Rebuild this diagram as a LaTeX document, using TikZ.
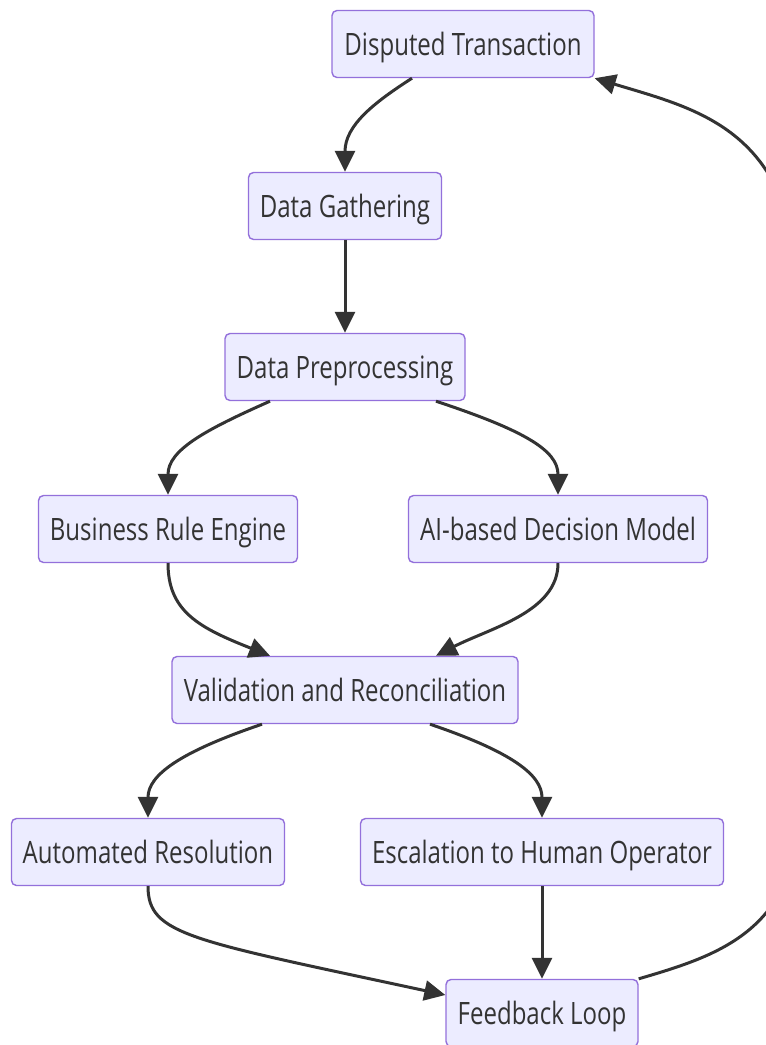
\documentclass[tikz,border=0pt]{standalone}
\usepackage{fontspec}
\setmainfont{Open Sans}[FakeStretch=0.78]
\usetikzlibrary{arrows.meta}
\definecolor{boxfill}{HTML}{ECECFF}
\definecolor{boxline}{HTML}{9370DB}
\definecolor{ink}{HTML}{333333}
\tikzset{
  flowbox/.style={draw=boxline, fill=boxfill, line width=1.4pt, rounded corners=5pt,
    minimum height=67pt, inner xsep=0pt, text=ink, text height=22pt, text depth=0pt,
    font=\fontsize{30.8}{34}\selectfont},
  flow/.style={draw=ink, line width=3pt, -{Triangle[length=21pt, width=20pt]}}
}
\begin{document}
\begin{tikzpicture}[x=1pt, y=-1pt]
\useasboundingbox (0,0) rectangle (766,1045);

% process steps
\node[flowbox, minimum width=262pt] (dt)  at (463,44)   {Disputed Transaction};
\node[flowbox, minimum width=193pt] (dg)  at (345,206)  {Data Gathering};
\node[flowbox, minimum width=240pt] (dp)  at (345,367)  {Data Preprocessing};
\node[flowbox, minimum width=259pt] (bre) at (168,529)  {Business Rule Engine};
\node[flowbox, minimum width=299pt] (ai)  at (558,529)  {AI-based Decision Model};
\node[flowbox, minimum width=346pt] (vr)  at (345,690)  {Validation and Reconciliation};
\node[flowbox, minimum width=273pt] (ar)  at (148,852)  {Automated Resolution};
\node[flowbox, minimum width=363pt] (esc) at (542,852)  {Escalation to Human Operator};
\node[flowbox, minimum width=192pt] (fb)  at (542,1013) {Feedback Loop};

% connectors
\draw[flow] ([xshift=-51pt]dt.south) .. controls (375,102) and (345,125) .. (dg.north);
\draw[flow] (dg.south) -- (dp.north);
\draw[flow] ([xshift=-75pt]dp.south) .. controls (205,430) and (168,450) .. (bre.north);
\draw[flow] ([xshift=91pt]dp.south) .. controls (523,430) and (558,450) .. (ai.north);
\draw[flow] (bre.south) .. controls (168,612) and (200,628) .. ([xshift=-75pt]vr.north);
\draw[flow] (ai.south) .. controls (558,612) and (490,628) .. ([xshift=91pt]vr.north);
\draw[flow] ([xshift=-83pt]vr.south) .. controls (180,752) and (148,775) .. (ar.north);
\draw[flow] ([xshift=85pt]vr.south) .. controls (512,752) and (542,775) .. (esc.north);
\draw[flow] (ar.south) .. controls (148,935) and (190,940) .. ([yshift=18pt]fb.west);
\draw[flow] (esc.south) -- (fb.north);
\draw[flow] (fb.north east) .. controls (720,955) and (800,930) .. (800,800)
  -- (800,300) .. controls (795,130) and (700,110) .. (dt.south east);
\end{tikzpicture}
\end{document}
